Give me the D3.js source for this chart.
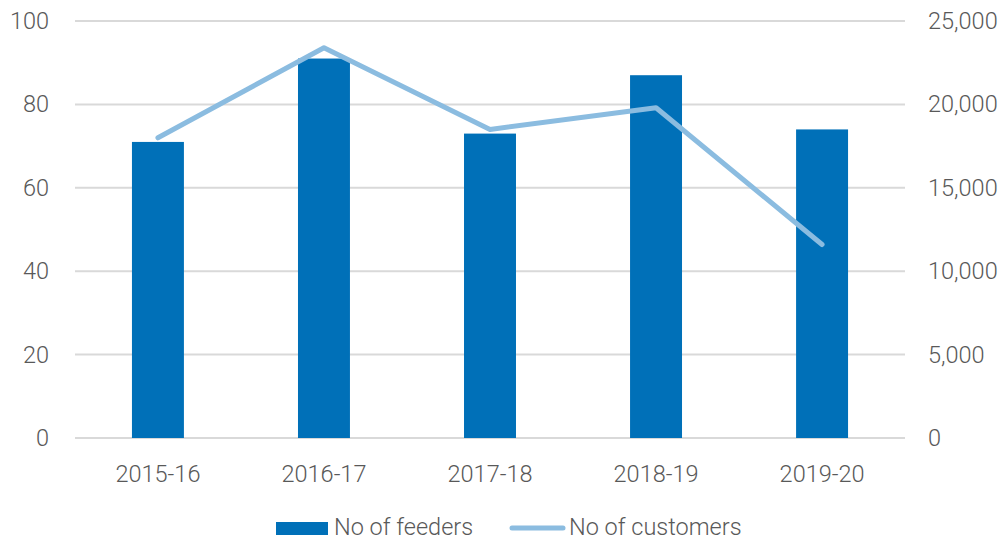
<!DOCTYPE html>
<meta charset="utf-8">
<style>
    body {
        margin: 0;
    }
    svg text {
        font-family: Roboto, sans-serif;
        font-weight: 300;
        font-size: 23.5px;
        fill: #595959;
    }
</style>
<script src="https://d3js.org/d3.v7.min.js"></script>
<div id="chart"></div>
<script>
    var years = ["2015-16", "2016-17", "2017-18", "2018-19", "2019-20"];
    var feeders = [71, 91, 73, 87, 74];
    var customers = [18000, 23400, 18500, 19800, 11600];
    var leftTicks = [0, 20, 40, 60, 80, 100];
    var rightTicks = [0, 5000, 10000, 15000, 20000, 25000];

    var margin = {top: 21, right: 101, bottom: 102, left: 75},
        width = 1006 - margin.left - margin.right,
        height = 540 - margin.top - margin.bottom;

    var svg = d3.select("#chart")
        .append("svg")
        .attr("width", 1006)
        .attr("height", 540)
        .append("g")
        .attr("transform", "translate(" + margin.left + "," + margin.top + ")");

    var x = d3.scaleBand()
        .domain(years)
        .range([0, width])
        .paddingInner(0.687)
        .paddingOuter(0.343);

    var y = d3.scaleLinear().domain([0, 100]).range([height, 0]);
    var y2 = d3.scaleLinear().domain([0, 25000]).range([height, 0]);

    // gridlines
    svg.selectAll(".grid")
        .data(leftTicks)
        .enter()
        .append("line")
        .attr("x1", 0)
        .attr("x2", width)
        .attr("y1", function(d) { return y(d); })
        .attr("y2", function(d) { return y(d); })
        .style("stroke", "#d9d9d9")
        .style("stroke-width", 2);

    var leftAxis = svg.append("g")
        .attr("class", "axis")
        .call(d3.axisLeft(y).tickValues(leftTicks).tickSize(0).tickPadding(26));
    leftAxis.select(".domain").remove();

    var rightAxis = svg.append("g")
        .attr("class", "axis")
        .attr("transform", "translate(" + width + ",0)")
        .call(d3.axisRight(y2).tickValues(rightTicks).tickSize(0).tickPadding(23)
            .tickFormat(d3.format(",")));
    rightAxis.select(".domain").remove();

    var xAxis = svg.append("g")
        .attr("class", "axis")
        .attr("transform", "translate(0," + height + ")")
        .call(d3.axisBottom(x).tickSize(0).tickPadding(27));
    xAxis.select(".domain").remove();

    svg.selectAll(".axis").attr("font-family", null).attr("font-size", null);

    svg.selectAll(".bar")
        .data(years)
        .enter()
        .append("rect")
        .attr("x", function(d) { return x(d); })
        .attr("width", x.bandwidth())
        .attr("y", function(d, i) { return y(feeders[i]); })
        .attr("height", function(d, i) { return height - y(feeders[i]); })
        .style("fill", "#0070b8");

    var line = d3.line()
        .x(function(d, i) { return x(years[i]) + x.bandwidth() / 2; })
        .y(function(d) { return y2(d); });

    svg.append("path")
        .datum(customers)
        .attr("d", line)
        .style("fill", "none")
        .style("stroke", "#8bbce0")
        .style("stroke-width", 5)
        .style("stroke-linecap", "round")
        .style("stroke-linejoin", "round");

    // legend
    var legend = d3.select("svg").append("g");
    legend.append("rect")
        .attr("x", 276)
        .attr("y", 522)
        .attr("width", 52)
        .attr("height", 13)
        .style("fill", "#0070b8");
    legend.append("text")
        .attr("x", 334)
        .attr("y", 535)
        .text("No of feeders");
    legend.append("line")
        .attr("x1", 512)
        .attr("x2", 563)
        .attr("y1", 528)
        .attr("y2", 528)
        .style("stroke", "#8bbce0")
        .style("stroke-width", 5)
        .style("stroke-linecap", "round");
    legend.append("text")
        .attr("x", 569)
        .attr("y", 535)
        .text("No of customers");
</script>
